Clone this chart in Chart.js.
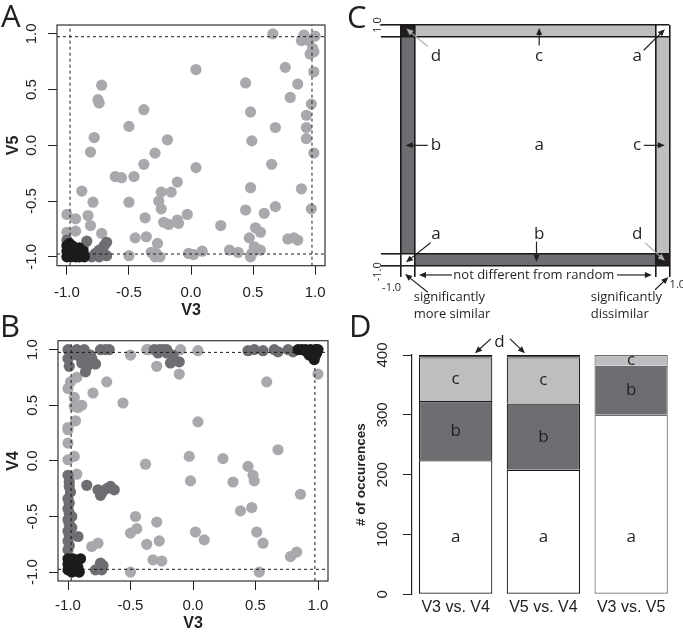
<!DOCTYPE html>
<html>
<head>
<meta charset="utf-8">
<script src="https://cdn.jsdelivr.net/npm/chart.js@4.4.1/dist/chart.umd.min.js"></script>
<style>
html, body { margin: 0; padding: 0; background: #fff; }
#page { position: relative; width: 683px; height: 633px; overflow: hidden; }
#page canvas { position: absolute; }
.tag { position: absolute; font-family: "Open Sans"; font-size: 31px; line-height: 1; color: #231f20; }
</style>
</head>
<body>
<div id="page">
  <canvas id="chartA" width="340" height="320" style="left:0px;top:0px"></canvas>
  <canvas id="chartB" width="340" height="318" style="left:0px;top:315px"></canvas>
  <canvas id="chartC" width="343" height="320" style="left:340px;top:0px"></canvas>
  <canvas id="chartD" width="343" height="315" style="left:340px;top:318px"></canvas>
  <div class="tag" style="left:1px;top:0px">A</div>
  <div class="tag" style="left:0px;top:310px">B</div>
  <div class="tag" style="left:347px;top:1px">C</div>
  <div class="tag" style="left:349px;top:310px">D</div>
</div>
<script>
// ---- shared axis values ----
const tickValues = [-1, -0.5, 0, 0.5, 1];
const sigCutoff = 0.975;
const axisLimit = 1.08;

// ---- panel A : V3 (x) vs V5 (y) ----
const aLight = [
    [0.66, 1.0], [0.91, 0.99], [0.89, 0.94], [0.95, 0.94], [1.0, 0.98], [0.98, 0.87], [0.99, 0.84], [0.96, 0.82],
    [0.99, 0.66], [0.76, 0.70], [0.44, 0.56], [0.86, 0.55], [0.80, 0.43], [0.97, 0.37], [0.48, 0.30], [0.93, 0.27],
    [0.93, 0.16], [0.68, 0.16], [0.93, 0.06], [0.49, 0.04], [0.99, -0.07], [0.04, 0.68], [-0.72, 0.54], [-0.75, 0.41],
    [-0.74, 0.38], [-0.38, 0.32], [-0.50, 0.17], [-0.78, 0.07], [-0.19, 0.05], [-0.81, -0.06], [-0.29, -0.07],
    [-0.38, -0.17], [0.65, -0.17], [0.04, -0.20], [-0.61, -0.28], [-0.56, -0.29], [-0.46, -0.28], [-0.11, -0.33],
    [-0.88, -0.41], [-0.24, -0.42], [-0.16, -0.42], [0.48, -0.38], [0.89, -0.39], [-0.79, -0.51], [-0.50, -0.51],
    [-0.26, -0.50], [-0.24, -0.57], [0.97, -0.57], [0.44, -0.58], [0.68, -0.55], [0.59, -0.61], [-0.03, -0.62],
    [-0.37, -0.65], [-0.22, -0.69], [-0.18, -0.71], [-0.11, -0.67], [-0.10, -0.70], [0.24, -0.72], [0.52, -0.74],
    [0.56, -0.78], [-0.36, -0.82], [-0.45, -0.83], [0.47, -0.83], [0.78, -0.84], [0.83, -0.83], [0.86, -0.85],
    [-0.27, -0.88], [0.51, -0.91], [0.56, -0.94], [0.31, -0.94], [0.38, -0.96], [0.09, -0.95], [-0.02, -0.97],
    [0.02, -0.98], [-0.32, -0.96], [-0.28, -0.97], [-0.29, -1.0], [-0.25, -1.0], [-0.50, -0.99], [0.48, -1.0],
    [0.49, -0.97], [-1.0, -0.62], [-0.93, -0.66], [-0.83, -0.63], [-0.81, -0.72], [-0.93, -0.77], [-1.0, -0.78],
    [-0.72, -0.79]
];
const aMid = [
    [-0.84, -0.86], [-0.68, -0.87], [-0.70, -0.90], [-0.74, -0.94], [-0.77, -0.97], [-0.80, -1.0], [-0.68, -0.99],
    [-0.74, -1.0], [-0.87, -0.92], [-0.90, -0.97], [-1.0, -0.85], [-0.71, -0.97]
];
const aDark = [
    [-1.0, -0.9], [-1.0, -0.95], [-1.0, -1.0], [-0.98, -0.88], [-0.98, -0.93], [-0.98, -0.97], [-0.97, -1.0],
    [-0.96, -0.9], [-0.95, -0.95], [-0.95, -0.99], [-0.94, -0.92], [-0.93, -0.97], [-0.93, -1.0], [-0.92, -0.94],
    [-0.91, -0.98], [-0.9, -0.92], [-0.9, -1.0], [-0.89, -0.96], [-0.88, -0.99], [-0.87, -0.95], [-0.99, -0.92],
    [-0.97, -0.95], [-0.96, -0.98], [-0.94, -0.95], [-0.92, -0.99], [-0.86, -1.0], [-0.99, -0.98], [-0.95, -0.91]
];

// ---- panel B : V3 (x) vs V4 (y) ----
const bLight = [
    [-0.37, 1.0], [-0.36, 1.0], [-0.10, 1.0], [0.04, 0.99], [-0.50, 0.95], [-0.29, 0.85], [-0.11, 0.78], [1.0, 0.78],
    [0.59, 0.71], [-0.69, 0.71], [-0.80, 0.61], [-0.56, 0.52], [0.04, 0.35], [0.68, 0.10], [-0.03, 0.04], [0.24, 0.02],
    [-0.38, -0.03], [0.44, -0.05], [0.48, -0.13], [0.49, -0.18], [-0.02, -0.18], [0.32, -0.19], [0.86, -0.30],
    [0.38, -0.45], [0.47, -0.42], [-0.46, -0.50], [-0.29, -0.55], [-0.45, -0.61], [-0.50, -0.65], [0.02, -0.64],
    [0.09, -0.71], [0.51, -0.64], [-0.27, -0.72], [-0.37, -0.75], [0.56, -0.74], [0.78, -0.86], [0.83, -0.82],
    [-0.32, -0.89], [-0.25, -0.90], [-0.50, -1.0], [0.53, -1.0], [-1.0, 0.30], [-1.0, 0.28], [-1.0, 0.16],
    [-1.0, 0.01], [-0.95, 0.04], [-0.93, -0.12], [-0.81, -0.77], [-0.76, -0.74], [-0.95, 0.57], [-0.95, 0.49],
    [-0.92, 0.48], [-0.89, 0.50], [-0.94, 0.36], [-1.0, 0.65], [-0.98, 0.71], [-0.93, 0.75]
];
const bMid = [
    [-1.0, 1.0], [-0.93, 1.0], [-0.87, 1.0], [-0.74, 1.0], [-0.70, 1.0], [-0.67, 1.0], [-0.31, 1.0], [-0.27, 1.0],
    [-0.24, 1.0], [-0.21, 1.0], [-0.28, 0.97], [-0.21, 0.97], [-0.16, 0.95], [-0.18, 0.88], [-0.11, 0.89],
    [-0.93, 0.95], [-0.86, 0.95], [-0.82, 0.95], [-0.89, 0.88], [-0.84, 0.91], [-0.81, 0.92], [-0.84, 0.86],
    [-0.78, 0.87], [-0.86, 0.80], [-1.0, 0.92], [-0.99, 0.85], [0.44, 0.99], [0.49, 1.0], [0.56, 0.99], [0.65, 1.0],
    [0.68, 0.98], [0.76, 1.0], [0.80, 0.98], [-1.0, -0.13], [-0.99, -0.19], [-0.99, -0.23], [-0.98, -0.28],
    [-1.0, -0.34], [-0.99, -0.38], [-1.0, -0.43], [-0.99, -0.47], [-0.97, -0.50], [-1.0, -0.53], [-0.99, -0.57],
    [-0.97, -0.60], [-1.0, -0.63], [-0.99, -0.67], [-1.0, -0.72], [-0.99, -0.76], [-1.0, -0.80], [-0.92, -0.68],
    [-0.85, -0.22], [-0.76, -0.26], [-0.73, -0.29], [-0.69, -0.25], [-0.66, -0.23], [-0.74, -0.31], [-0.63, -0.26],
    [-0.74, -0.92], [-0.72, -0.94], [-0.78, -0.98], [-0.73, -0.98]
];
const bDark = [
    [0.84, 1.0], [0.87, 1.0], [0.9, 1.0], [0.92, 0.99], [0.94, 1.0], [0.96, 0.99], [0.98, 1.0], [1.0, 1.0],
    [0.93, 0.95], [0.95, 0.97], [0.99, 0.97], [0.97, 0.91], [0.91, 0.98], [0.98, 0.95],
    [-1.0, -0.88], [-1.0, -0.93], [-1.0, -0.98], [-0.98, -0.9], [-0.98, -0.96], [-0.97, -1.0], [-0.96, -0.88],
    [-0.95, -0.93], [-0.95, -0.98], [-0.93, -0.9], [-0.92, -0.96], [-0.91, -1.0], [-0.9, -0.88], [-0.93, -0.99],
    [-0.99, -0.95], [-0.96, -0.96]
];

// ---- panel C : schematic of the regions ----
const cEdges = [-1, -0.9, 0.9, 1];
const cGrid = [            // rows from top to bottom, columns left to right
    ['d', 'c', 'a'],
    ['b', 'a', 'c'],
    ['a', 'b', 'd']
];

// ---- panel D : counts per category ----
const dPairs = ['V3 vs. V4', 'V5 vs. V4', 'V3 vs. V5'];
const dCountA = [224, 208, 300];
const dCountB = [99, 111, 82];
const dCountC = [73, 77, 18];
const dCountD = [4, 4, 0];
const dTicks = [0, 100, 200, 300, 400];

const catColours = { a: '#ffffff', b: '#6d6e71', c: '#bcbec0', d: '#231f20' };
const dotColours = { light: '#a7a9ac', mid: '#6d6e71', dark: '#1d1b1c' };
const ink = '#231f20';

function toXY(list) {
    return list.map(p => ({ x: p[0], y: p[1] }));
}

// box around plot region, like R's box()
const boxPlugin = {
    id: 'rbox',
    afterDraw(chart) {
        const a = chart.chartArea, ctx = chart.ctx;
        ctx.save();
        ctx.strokeStyle = '#333';
        ctx.lineWidth = 1.2;
        ctx.strokeRect(a.left, a.top, a.right - a.left, a.bottom - a.top);
        ctx.restore();
    }
};

// R writes y tick labels parallel to the axis; draw them from the scale's ticks
function sideLabels(offset, fmt) {
    return {
        id: 'sideLabels',
        afterDraw(chart) {
            const ys = chart.scales.y, ctx = chart.ctx;
            ctx.save();
            ctx.fillStyle = '#222';
            ctx.font = '15px "Liberation Sans"';
            ctx.textAlign = 'center';
            ctx.textBaseline = 'middle';
            ys.ticks.forEach(t => {
                ctx.save();
                ctx.translate(chart.chartArea.left - offset, ys.getPixelForValue(t.value));
                ctx.rotate(-Math.PI / 2);
                ctx.fillText(fmt(t.value), 0, 0);
                ctx.restore();
            });
            ctx.restore();
        }
    };
}

function cutoffLines() {
    const segs = [
        [[-axisLimit, sigCutoff], [axisLimit, sigCutoff]],
        [[-axisLimit, -sigCutoff], [axisLimit, -sigCutoff]],
        [[sigCutoff, -axisLimit], [sigCutoff, axisLimit]],
        [[-sigCutoff, -axisLimit], [-sigCutoff, axisLimit]]
    ];
    return segs.map(s => ({
        data: toXY(s), showLine: true, borderColor: '#1a1a1a', borderWidth: 1,
        borderDash: [3, 3], pointRadius: 0, order: 0
    }));
}

function dots(list, colour, order) {
    return { data: toXY(list), backgroundColor: colour, borderWidth: 0, pointRadius: 5.6, pointHoverRadius: 5.6, order: order };
}

function scatterChart(id, light, mid, dark, xTitle, yTitle, pad, xH, yW, xPad) {
    const tickFont = { family: 'Liberation Sans', size: 15 };
    const titleFont = { family: 'Liberation Sans', size: 16, weight: 'bold' };
    return new Chart(document.getElementById(id), {
        type: 'scatter',
        data: {
            datasets: cutoffLines().concat([
                dots(dark, dotColours.dark, 1),
                dots(mid, dotColours.mid, 2),
                dots(light, dotColours.light, 3)
            ])
        },
        options: {
            responsive: false, animation: false, devicePixelRatio: 1,
            layout: { padding: pad },
            plugins: { legend: { display: false }, tooltip: { enabled: false } },
            scales: {
                x: {
                    type: 'linear', min: -axisLimit, max: axisLimit,
                    afterBuildTicks: s => { s.ticks = tickValues.map(v => ({ value: v })); },
                    afterFit: s => { s.height = xH; },
                    grid: { drawOnChartArea: false, tickLength: 9, tickColor: '#222', tickWidth: 1 },
                    border: { display: false },
                    ticks: { font: tickFont, color: '#222', padding: xPad, maxRotation: 0, autoSkip: false, callback: v => v.toFixed(1) },
                    title: { display: true, text: xTitle, font: titleFont, color: '#222', padding: 0 }
                },
                y: {
                    type: 'linear', min: -axisLimit, max: axisLimit,
                    afterBuildTicks: s => { s.ticks = tickValues.map(v => ({ value: v })); },
                    afterFit: s => { s.width = yW; },
                    grid: { drawOnChartArea: false, tickLength: 9, tickColor: '#222', tickWidth: 1 },
                    border: { display: false },
                    ticks: { display: false },
                    title: { display: true, text: yTitle, font: titleFont, color: '#222', padding: { top: 4, bottom: 0 } }
                }
            }
        },
        plugins: [boxPlugin, sideLabels(25, v => v.toFixed(1))]
    });
}

scatterChart('chartA', aLight, aMid, aDark, 'V3', 'V5', { left: 0, right: 15, top: 25, bottom: 0.3 }, 54, 57, 9);
scatterChart('chartB', bLight, bMid, bDark, 'V3', 'V4', { left: 0, right: 12, top: 25.7, bottom: 0 }, 52, 58, 7);

// ---- panel C ----
function drawArrow(ctx, x1, y1, x2, y2, colour) {
    const ang = Math.atan2(y2 - y1, x2 - x1), head = 7, half = 3;
    ctx.strokeStyle = colour;
    ctx.fillStyle = colour;
    ctx.lineWidth = 1.2;
    ctx.beginPath();
    ctx.moveTo(x1, y1);
    ctx.lineTo(x2 - Math.cos(ang) * head * 0.8, y2 - Math.sin(ang) * head * 0.8);
    ctx.stroke();
    ctx.beginPath();
    ctx.moveTo(x2, y2);
    ctx.lineTo(x2 - head * Math.cos(ang) + half * Math.sin(ang), y2 - head * Math.sin(ang) - half * Math.cos(ang));
    ctx.lineTo(x2 - head * Math.cos(ang) - half * Math.sin(ang), y2 - head * Math.sin(ang) + half * Math.cos(ang));
    ctx.closePath();
    ctx.fill();
}

const cLabelX = [-0.74, 0.03, 0.76];
const cLabelY = [0.74, 0, -0.74];
// arrows from label to cell, in axis units: x1, y1, x2, y2, grey?
const cArrows = [
    [-0.80, 0.82, -0.96, 0.97, true], [0.03, 0.83, 0.03, 0.975, false], [0.81, 0.79, 0.967, 0.965, false],
    [-0.80, 0, -0.965, 0, false], [0.81, 0, 0.967, 0, false],
    [-0.78, -0.81, -0.963, -0.972, false], [0.01, -0.80, 0.01, -0.967, false], [0.82, -0.81, 0.967, -0.958, true],
    [-0.62, -1.077, -0.866, -1.077, false], [0.61, -1.077, 0.87, -1.077, false],
    [-0.80, -1.22, -0.97, -1.07, false], [0.894, -1.20, 0.993, -1.094, false]
];

const cellsPlugin = {
    id: 'cells',
    beforeDraw(chart) {
        const ctx = chart.ctx, xs = chart.scales.x, ys = chart.scales.y;
        ctx.save();
        cGrid.forEach((row, r) => {
            row.forEach((cat, c) => {
                const x0 = xs.getPixelForValue(cEdges[c]), x1 = xs.getPixelForValue(cEdges[c + 1]);
                const y0 = ys.getPixelForValue(cEdges[3 - r]), y1 = ys.getPixelForValue(cEdges[2 - r]);
                ctx.fillStyle = catColours[cat];
                ctx.fillRect(x0, y0, x1 - x0, y1 - y0);
            });
        });
        ctx.restore();
    },
    afterDraw(chart) {
        const ctx = chart.ctx, xs = chart.scales.x, ys = chart.scales.y;
        const px = v => xs.getPixelForValue(v), py = v => ys.getPixelForValue(v);
        ctx.save();
        ctx.fillStyle = ink;
        ctx.textAlign = 'center';
        ctx.textBaseline = 'middle';
        ctx.font = '17px "Open Sans"';
        cGrid.forEach((row, r) => {
            row.forEach((cat, c) => ctx.fillText(cat, px(cLabelX[c]), py(cLabelY[r])));
        });
        cArrows.forEach(a => drawArrow(ctx, px(a[0]), py(a[1]), px(a[2]), py(a[3]), a[4] ? '#a7a9ac' : ink));

        ctx.fillStyle = ink;
        ctx.font = '13px "Open Sans"';
        ctx.fillText('not different from random', px(-0.01), py(-1.079));
        ctx.textAlign = 'left';
        ctx.fillText('significantly', px(-0.905), py(-1.26));
        ctx.fillText('more similar', px(-0.905), py(-1.40));
        ctx.fillText('significantly', px(0.414), py(-1.26));
        ctx.fillText('dissimilar', px(0.414), py(-1.40));

        ctx.textAlign = 'center';
        ctx.font = '11px "Open Sans"';
        ctx.fillText('-1.0', px(-1.07), py(-1.18));
        ctx.fillText('1.0', px(1.06), py(-1.16));
        [[1.0, '1.0'], [-1.05, '-1.0']].forEach(t => {
            ctx.save();
            ctx.translate(px(-1.171), py(t[0]));
            ctx.rotate(-Math.PI / 2);
            ctx.fillText(t[1], 0, 0);
            ctx.restore();
        });
        ctx.restore();
    }
};

new Chart(document.getElementById('chartC'), {
    type: 'scatter',
    data: { datasets: [] },
    options: {
        responsive: false, animation: false, devicePixelRatio: 1,
        layout: { padding: { left: 41, right: 13.7, top: 25, bottom: 43 } },
        plugins: { legend: { display: false }, tooltip: { enabled: false } },
        scales: {
            x: {
                type: 'linear', min: -1, max: 1,
                afterBuildTicks: s => { s.ticks = cEdges.map(v => ({ value: v })); },
                afterFit: s => { s.height = 11.3; },
                grid: { color: '#1a1a1a', lineWidth: 1.6, tickLength: 11.3 },
                border: { display: false },
                ticks: { display: false }
            },
            y: {
                type: 'linear', min: -1, max: 1,
                afterBuildTicks: s => { s.ticks = cEdges.map(v => ({ value: v })); },
                afterFit: s => { s.width = 20; },
                grid: { color: '#1a1a1a', lineWidth: 1.6, tickLength: 20 },
                border: { display: false },
                ticks: { display: false }
            }
        }
    },
    plugins: [cellsPlugin]
});

// ---- panel D ----
const barEdge = ['#1a1a1a', '#1a1a1a', '#6d6e71'];

const barLabelPlugin = {
    id: 'barLabels',
    afterDatasetsDraw(chart) {
        const ctx = chart.ctx, xs = chart.scales.x, ys = chart.scales.y;
        ctx.save();
        ctx.fillStyle = ink;
        ctx.textAlign = 'center';
        ctx.textBaseline = 'middle';
        ctx.font = '17px "Open Sans"';
        ['a', 'b', 'c'].forEach((name, i) => {
            chart.getDatasetMeta(i).data.forEach(bar => {
                const y = name === 'a' ? ys.getPixelForValue(96) : (bar.y + bar.base) / 2;
                ctx.fillText(name, bar.x, y);
            });
        });
        // the thin "d" slices are pointed at from above
        ctx.fillText('d', xs.getPixelForValue(0.5), ys.getPixelForValue(422));
        drawArrow(ctx, xs.getPixelForValue(0.4), ys.getPixelForValue(427), xs.getPixelForValue(0.22), ys.getPixelForValue(403), ink);
        drawArrow(ctx, xs.getPixelForValue(0.62), ys.getPixelForValue(427), xs.getPixelForValue(0.79), ys.getPixelForValue(403), ink);
        ctx.restore();
    }
};

// lower segments keep their base edge, upper ones share the edge below them
function segment(label, values, colour, skip) {
    return {
        label: label, data: values, backgroundColor: colour, borderColor: barEdge, borderWidth: 1.2,
        borderSkipped: skip, barPercentage: 0.836, categoryPercentage: 1
    };
}

new Chart(document.getElementById('chartD'), {
    type: 'bar',
    data: {
        labels: dPairs,
        datasets: [
            segment('a', dCountA, catColours.a, false),
            segment('b', dCountB, catColours.b, 'start'),
            segment('c', dCountC, catColours.c, 'start'),
            segment('d', dCountD, catColours.d, 'start')
        ]
    },
    options: {
        responsive: false, animation: false, devicePixelRatio: 1,
        layout: { padding: { left: 0, right: 8, top: 37, bottom: 0 } },
        plugins: { legend: { display: false }, tooltip: { enabled: false } },
        scales: {
            x: {
                stacked: true, offset: true,
                afterFit: s => { s.height = 38.7; },
                grid: { display: false, drawTicks: false },
                border: { display: false },
                ticks: { font: { family: 'Liberation Sans', size: 16 }, color: '#222', padding: 4 }
            },
            y: {
                stacked: true, min: 0, max: 400,
                afterBuildTicks: s => { s.ticks = dTicks.map(v => ({ value: v })); },
                afterFit: s => { s.width = 71.8; },
                grid: { drawOnChartArea: false, tickLength: 9, tickColor: '#222', tickWidth: 1 },
                border: { display: true, color: '#222', width: 1.2 },
                ticks: { display: false },
                title: {
                    display: true, text: '# of occurences',
                    font: { family: 'Liberation Sans', size: 13.5, weight: 'bold' }, color: '#222',
                    padding: { top: 13, bottom: 0 }
                }
            }
        }
    },
    plugins: [barLabelPlugin, sideLabels(28.5, v => String(v))]
});
</script>
</body>
</html>
